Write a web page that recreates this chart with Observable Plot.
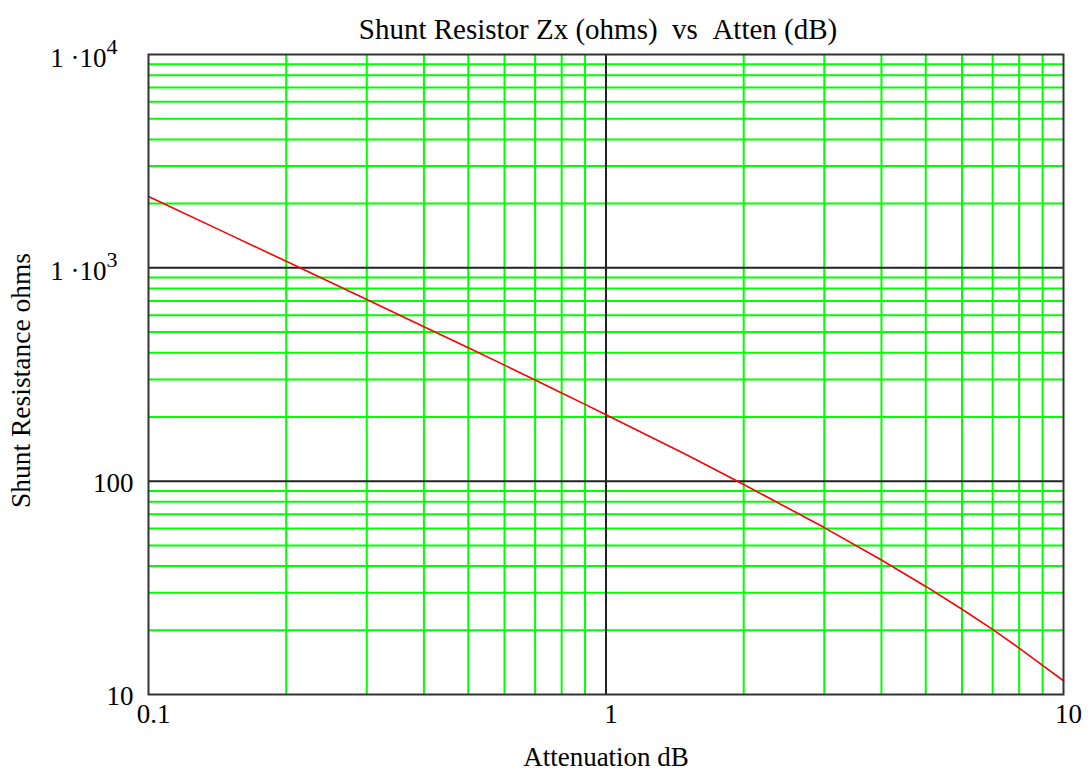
<!DOCTYPE html>
<html><head><meta charset="utf-8">
<script src="https://cdn.jsdelivr.net/npm/d3@7"></script>
<script src="https://cdn.jsdelivr.net/npm/@observablehq/plot@0.6"></script>
<style>
body{margin:0;background:#fff}
svg{font-family:"Liberation Serif","Times New Roman",serif}
</style>
</head><body><div id="chart"></div>
<script>
const titleText = "Shunt Resistor Zx (ohms)\u00a0 vs \u00a0Atten (dB)";
const xLabelText = "Attenuation dB";
const yLabelText = "Shunt Resistance ohms";

// Attenuation (dB) and shunt resistance (ohms)
const atten =     [0.1, 0.15, 0.2, 0.3, 0.4, 0.5, 0.6, 0.7, 0.8, 0.9, 1, 1.5, 2, 3, 4, 5, 6, 7, 8, 9, 10];
const shuntOhms = [2159, 1435, 1073, 711, 530, 422, 350, 298, 259, 229, 205, 133, 96.5, 60.6, 42.7, 32.1, 25.1, 20.2, 16.5, 13.7, 11.6];

const xMinorGrid = [0.2,0.3,0.4,0.5,0.6,0.7,0.8,0.9,2,3,4,5,6,7,8,9];
const xMajorGrid = [1];
const yMinorGrid = [20,30,40,50,60,70,80,90,200,300,400,500,600,700,800,900,2000,3000,4000,5000,6000,7000,8000,9000];
const yMajorGrid = [100,1000];

const xTickValues = [0.1, 1, 10];
const xTickLabels = ["0.1", "1", "10"];
const yTickValues = [10, 100, 1000, 10000];
const yTickLabels = ["10", "100", "1 ·10^3", "1 ·10^4"];

const data = atten.map((a, i) => ({a, z: shuntOhms[i]}));

const plot = Plot.plot({
  width: 1091,
  height: 773,
  marginLeft: 148,
  marginRight: 28,
  marginTop: 54,
  marginBottom: 79,
  style: {background: "#fff", fontFamily: "'Liberation Serif','Times New Roman',serif", fontSize: "27px", color: "#000"},
  x: {type: "log", domain: [0.1, 10]},
  y: {type: "log", domain: [10, 10000]},
  marks: [
    Plot.ruleX(xMinorGrid, {stroke: "#00ff00", strokeWidth: 2}),
    Plot.ruleY(yMinorGrid, {stroke: "#00ff00", strokeWidth: 2}),
    Plot.ruleX(xMajorGrid, {stroke: "#222", strokeWidth: 2}),
    Plot.ruleY(yMajorGrid, {stroke: "#222", strokeWidth: 2}),
    Plot.line(data, {x: "a", y: "z", stroke: "#ff0000", strokeWidth: 1.6}),
    Plot.frame({stroke: "#333", strokeWidth: 2}),
    Plot.axisX(xTickValues, {tickSize: 0, tickPadding: 9, dx: 5, fontSize: 27,
      tickFormat: d => xTickLabels[xTickValues.indexOf(d)], label: null}),
    Plot.axisY(yTickValues, {tickSize: 0, tickPadding: 15, dy: 2, fontSize: 27,
      tickFormat: d => yTickLabels[yTickValues.indexOf(d)], label: null}),
    Plot.text([titleText], {frameAnchor: "top", lineAnchor: "bottom", dy: -16, dx: -8, fontSize: 29, fill: "#000"}),
    Plot.text([xLabelText], {frameAnchor: "bottom", lineAnchor: "bottom", dy: 71, fontSize: 27, fill: "#000"}),
    Plot.text([yLabelText], {frameAnchor: "left", textAnchor: "middle", lineAnchor: "bottom", rotate: -90, dx: -119, dy: 6, fontSize: 27.5, fill: "#000"})
  ]
});

d3.select(plot).selectAll('[aria-label="y-axis tick label"] text').each(function() {
  const t = d3.select(this);
  const s = t.text();
  if (s.includes("^")) {
    const [base, exp] = s.split("^");
    t.text(null);
    t.append("tspan").text(base.replace(" ", "\u00a0"));
    t.append("tspan").attr("dy", "-0.62em").attr("font-size", "22px").text(exp);
    t.attr("transform", (t.attr("transform") || "") + " translate(-16,2)");
  }
});

document.getElementById("chart").appendChild(plot);
</script>
</body></html>
